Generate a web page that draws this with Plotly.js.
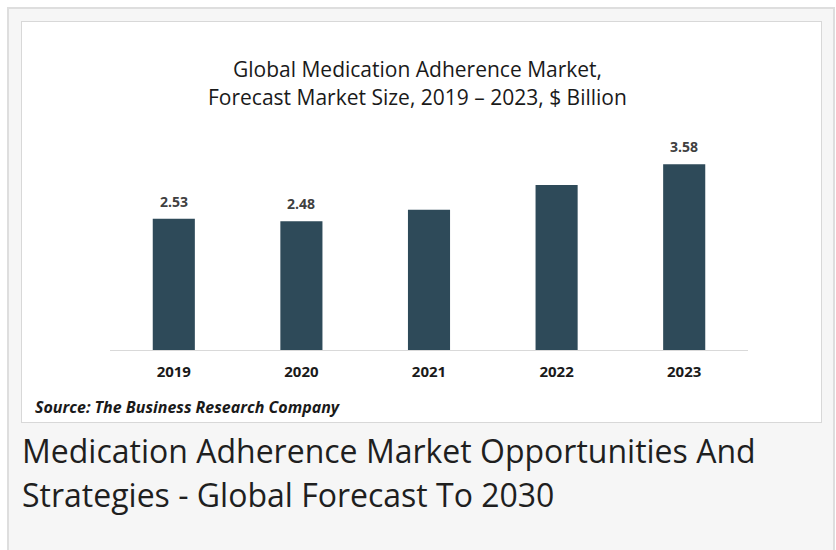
<!DOCTYPE html>
<html>
<head>
<meta charset="utf-8">
<script src="https://cdn.plot.ly/plotly-3.0.1.min.js"></script>
<style>
  html, body { margin: 0; padding: 0; background: #ffffff; width: 836px; height: 550px; overflow: hidden; }
  #outer { position: absolute; left: 7px; top: 7px; width: 824px; height: 560px; background: #f6f6f6; border: 2px solid #dedede; }
  #inner { position: absolute; left: 21px; top: 21px; width: 799px; height: 400px; background: #ffffff; border: 1px solid #d8d8d8; }
  #chart { position: absolute; left: 0; top: 0; width: 836px; height: 550px; }
</style>
</head>
<body>
<div id="outer"></div>
<div id="inner"></div>
<div id="chart"></div>
<script>
// ---- data ----
const years = ['2019', '2020', '2021', '2022', '2023'];
const marketSize = [2.53, 2.48, 2.70, 3.18, 3.58];
const showLabel = [true, true, false, false, true];
const titleLines = ['Global Medication Adherence Market,', 'Forecast Market Size, 2019 \u2013 2023, $ Billion'];
const sourceText = 'Source: The Business Research Company';
const headingLines = ['Medication Adherence Market Opportunities And', 'Strategies - Global Forecast To 2030'];

// ---- layout helpers (pixel -> paper coords) ----
const L = 110, R = 748, T = 132, B = 350;
const px = x => (x - L) / (R - L);
const py = y => (B - y) / (B - T);

const font = 'Open Sans, Noto Sans, sans-serif';
const annotations = [];

titleLines.forEach((t, i) => {
  annotations.push({
    text: t, xref: 'paper', yref: 'paper', x: px(417), y: py(69 + i * 28),
    xanchor: 'center', yanchor: 'middle', showarrow: false,
    font: { family: font, size: 21, color: '#1a1a1a' }
  });
});

years.forEach((yr, i) => {
  if (showLabel[i]) {
    annotations.push({
      text: '<b>' + marketSize[i].toFixed(2) + '</b>', x: i, y: marketSize[i],
      xref: 'x', yref: 'y', xanchor: 'center', yanchor: 'bottom', yshift: 6,
      showarrow: false, font: { family: font, size: 14, color: '#404040' }
    });
  }
});

annotations.push({
  text: '<b><i>' + sourceText + '</i></b>', xref: 'paper', yref: 'paper',
  x: px(33), y: py(407), xanchor: 'left', yanchor: 'middle', showarrow: false,
  font: { family: font, size: 16, color: '#1a1a1a' }
});

headingLines.forEach((t, i) => {
  annotations.push({
    text: t, xref: 'paper', yref: 'paper', x: px(20), y: py(450 + i * 44),
    xanchor: 'left', yanchor: 'middle', showarrow: false,
    font: { family: font, size: 32, color: '#1f1f1f' }
  });
});

const trace = {
  type: 'bar', x: years, y: marketSize,
  marker: { color: '#2e4a59' },
  hoverinfo: 'skip'
};

const layout = {
  width: 836, height: 550,
  margin: { l: L, r: 836 - R, t: T, b: 550 - B, pad: 0 },
  paper_bgcolor: 'rgba(0,0,0,0)', plot_bgcolor: 'rgba(0,0,0,0)',
  bargap: 0.67,
  showlegend: false,
  xaxis: {
    type: 'category', range: [-0.5, years.length - 0.5],
    showline: true, linecolor: '#d9d9d9', linewidth: 1,
    ticks: 'outside', ticklen: 8, tickcolor: 'rgba(0,0,0,0)',
    tickfont: { family: font, size: 15, color: '#1a1a1a', weight: 'bold' },
    showgrid: false, zeroline: false, fixedrange: true
  },
  yaxis: {
    range: [0, 4.2], visible: false, showgrid: false, zeroline: false, fixedrange: true
  },
  annotations: annotations
};

Plotly.newPlot('chart', [trace], layout, { displayModeBar: false, staticPlot: true });
</script>
</body>
</html>
